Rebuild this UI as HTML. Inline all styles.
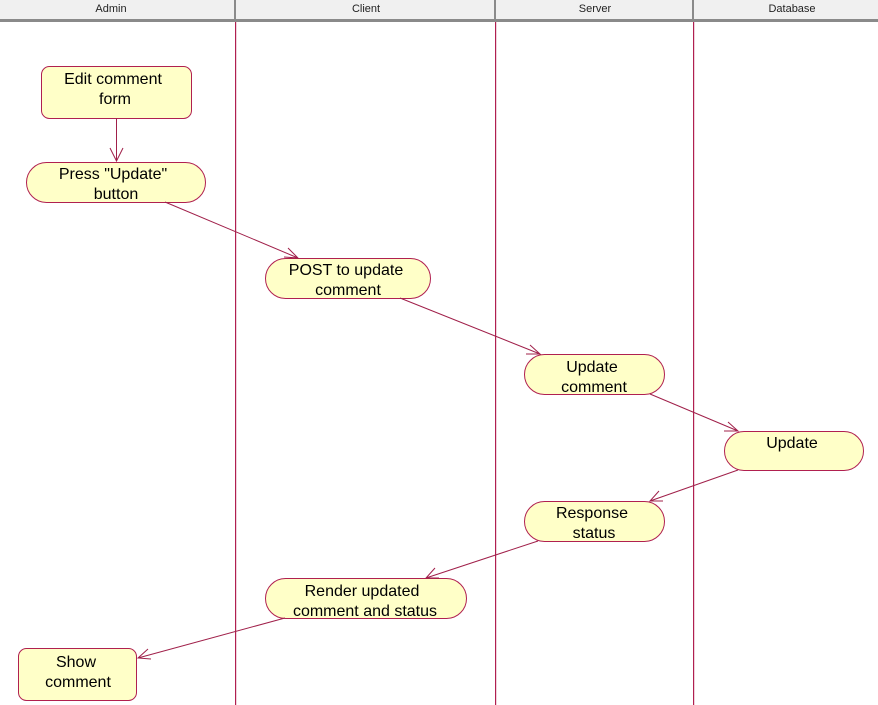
<!DOCTYPE html>
<html><head><meta charset="utf-8"><style>
body{margin:0;width:878px;height:705px;overflow:hidden;background:#fff;}
svg{display:block;font-family:"Liberation Sans",Arial,sans-serif;}
</style></head><body>
<svg width="878" height="705" viewBox="0 0 878 705">
<rect x="0" y="0" width="878" height="19" fill="#f0f0f0"/>
<rect x="0" y="19" width="878" height="3" fill="#8a8a8a"/>
<g fill="#8a8a8a"><rect x="234" y="0" width="2" height="19"/><rect x="494" y="0" width="2" height="19"/><rect x="692" y="0" width="2" height="19"/></g>
<g font-size="11" fill="#222" text-anchor="middle">
<text x="111" y="12">Admin</text><text x="366" y="12">Client</text><text x="595" y="12">Server</text><text x="792" y="12">Database</text></g>
<g fill="#b02050"><rect x="235" y="22" width="1.2" height="683"/><rect x="495" y="22" width="1.2" height="683"/><rect x="693" y="22" width="1.2" height="683"/></g>
<g fill="#ffffc8" stroke="#b02050" stroke-width="1">
<rect x="41.5" y="66.5" width="150" height="52" rx="8"/>
<rect x="26.5" y="162.5" width="179" height="40" rx="20"/>
<rect x="265.5" y="258.5" width="165" height="40" rx="20"/>
<rect x="524.5" y="354.5" width="140" height="40" rx="20"/>
<rect x="724.5" y="431.5" width="139" height="39" rx="19.5"/>
<rect x="524.5" y="501.5" width="140" height="40" rx="20"/>
<rect x="265.5" y="578.5" width="201" height="40" rx="20"/>
<rect x="18.5" y="648.5" width="118" height="52" rx="8"/>
</g>
<g stroke="#a0204a" stroke-width="1" fill="none">
<path d="M116.5 118 L116.5 161 M110 148 L116.5 161 L123 148"/>
<path d="M165 202 L298 258 M284 257 L298 258 L288 248"/>
<path d="M400 298 L540 354 M526 354 L540 354 L530 345"/>
<path d="M650 394 L738 431 M724 431 L738 431 L728 422"/>
<path d="M738 470 L650 501 M659 491 L650 501 L663 501"/>
<path d="M538 541 L426 578 M435 568 L426 578 L439 578"/>
<path d="M285 618 L138 658 M148 649 L138 658 L151 659"/>
</g>
<g font-size="16" fill="#000" text-anchor="middle">
<text x="113" y="84">Edit comment</text><text x="115" y="104">form</text>
<text x="113" y="179">Press "Update"</text><text x="116" y="199">button</text>
<text x="346" y="275">POST to update</text><text x="348" y="295">comment</text>
<text x="592" y="372">Update</text><text x="594" y="392">comment</text>
<text x="792" y="448">Update</text>
<text x="592" y="518">Response</text><text x="594" y="538">status</text>
<text x="362" y="596">Render updated</text><text x="365" y="616">comment and status</text>
<text x="76" y="667">Show</text><text x="78" y="687">comment</text>
</g>
</svg>
</body></html>
